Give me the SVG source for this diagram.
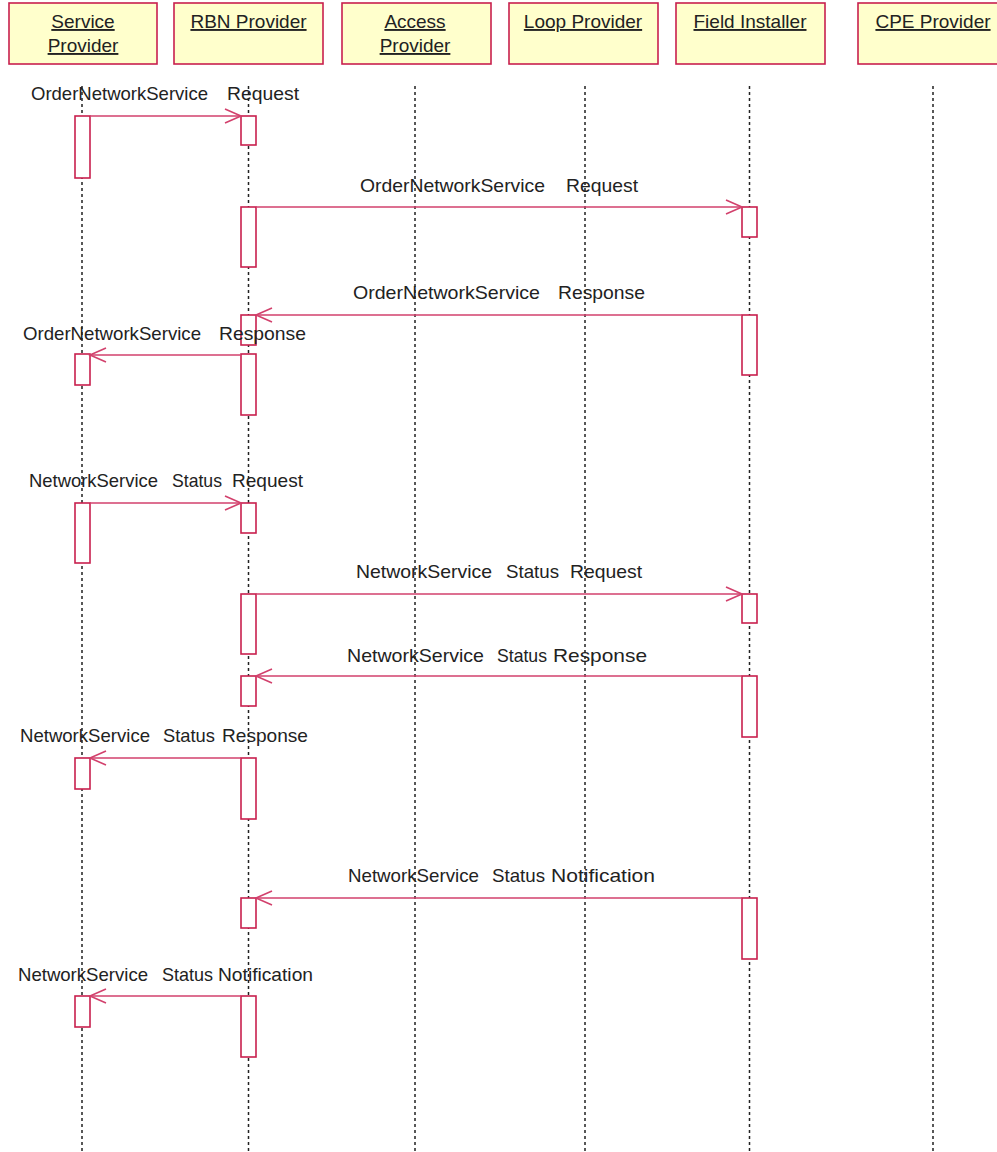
<svg xmlns="http://www.w3.org/2000/svg" width="997" height="1152" viewBox="0 0 997 1152">
<defs>
<style>
.hdr{fill:#FFFFCC;stroke:#C8204E;stroke-width:1.6}
.ht{font-family:"Liberation Sans",Arial,sans-serif;font-size:19px;fill:#222;text-anchor:middle;text-decoration:underline}
.life{stroke:#222;stroke-width:1.5;stroke-dasharray:3,3;fill:none}
.act{fill:#fff;stroke:#C8204E;stroke-width:1.6}
.msg{stroke:#D2406C;stroke-width:1.6;fill:none;marker-end:url(#arr)}
.lb{font-family:"Liberation Sans",Arial,sans-serif;font-size:18.5px;fill:#222}
</style>
<marker id="arr" markerUnits="userSpaceOnUse" markerWidth="20" markerHeight="20" viewBox="-18 -10 20 20" refX="0" refY="0" orient="auto">
<path d="M-16,-7 L0,0 L-16,7" fill="none" stroke="#D2406C" stroke-width="1.6"/>
</marker>
</defs>
<rect width="997" height="1152" fill="#fff"/>

<g id="lifelines">
<line class="life" x1="82" y1="86" x2="82" y2="1152"/>
<line class="life" x1="248.5" y1="86" x2="248.5" y2="1152"/>
<line class="life" x1="415" y1="86" x2="415" y2="1152"/>
<line class="life" x1="585" y1="86" x2="585" y2="1152"/>
<line class="life" x1="749.5" y1="86" x2="749.5" y2="1152"/>
<line class="life" x1="933" y1="86" x2="933" y2="1152"/>
</g>

<g id="service-provider">
<rect class="hdr" x="9" y="3" width="148" height="61"/>
<text class="ht" x="83" y="28">Service</text>
<text class="ht" x="83" y="52">Provider</text>
<rect class="act" x="75" y="116" width="15" height="62"/>
<rect class="act" x="75" y="354" width="15" height="31"/>
<rect class="act" x="75" y="503" width="15" height="60"/>
<rect class="act" x="75" y="758" width="15" height="31"/>
<rect class="act" x="75" y="996" width="15" height="31"/>
</g>

<g id="rbn-provider">
<rect class="hdr" x="174" y="3" width="149" height="61"/>
<text class="ht" x="248.5" y="28">RBN Provider</text>
<rect class="act" x="241" y="116" width="15" height="29"/>
<rect class="act" x="241" y="207" width="15" height="60"/>
<rect class="act" x="241" y="315" width="15" height="30"/>
<rect class="act" x="241" y="354" width="15" height="61"/>
<rect class="act" x="241" y="503" width="15" height="30"/>
<rect class="act" x="241" y="594" width="15" height="60"/>
<rect class="act" x="241" y="676" width="15" height="30"/>
<rect class="act" x="241" y="758" width="15" height="61"/>
<rect class="act" x="241" y="898" width="15" height="30"/>
<rect class="act" x="241" y="996" width="15" height="61"/>
</g>

<g id="access-provider">
<rect class="hdr" x="342" y="3" width="149" height="61"/>
<text class="ht" x="415" y="28">Access</text>
<text class="ht" x="415" y="52">Provider</text>
</g>

<g id="loop-provider">
<rect class="hdr" x="509" y="3" width="149" height="61"/>
<text class="ht" x="583" y="28">Loop Provider</text>
</g>

<g id="field-installer">
<rect class="hdr" x="676" y="3" width="149" height="61"/>
<text class="ht" x="750" y="28">Field Installer</text>
<rect class="act" x="742" y="207" width="15" height="30"/>
<rect class="act" x="742" y="315" width="15" height="60"/>
<rect class="act" x="742" y="594" width="15" height="29"/>
<rect class="act" x="742" y="676" width="15" height="61"/>
<rect class="act" x="742" y="898" width="15" height="61"/>
</g>

<g id="cpe-provider">
<rect class="hdr" x="858" y="3" width="149" height="61"/>
<text class="ht" x="933" y="28">CPE Provider</text>
</g>

<g id="connectors">
<line class="msg" x1="90" y1="116" x2="241" y2="116"/>
<line class="msg" x1="256" y1="207" x2="742" y2="207"/>
<line class="msg" x1="742" y1="315" x2="256" y2="315"/>
<line class="msg" x1="241" y1="355" x2="90" y2="355"/>
<line class="msg" x1="90" y1="503" x2="241" y2="503"/>
<line class="msg" x1="256" y1="594" x2="742" y2="594"/>
<line class="msg" x1="742" y1="676" x2="256" y2="676"/>
<line class="msg" x1="241" y1="758" x2="90" y2="758"/>
<line class="msg" x1="742" y1="898" x2="256" y2="898"/>
<line class="msg" x1="241" y1="996" x2="90" y2="996"/>
</g>

<g id="labels" class="lb">
<text y="100"><tspan x="31" textLength="177" lengthAdjust="spacingAndGlyphs">OrderNetworkService</tspan><tspan x="227" textLength="72" lengthAdjust="spacingAndGlyphs">Request</tspan></text>
<text y="192"><tspan x="360" textLength="185" lengthAdjust="spacingAndGlyphs">OrderNetworkService</tspan><tspan x="566" textLength="72" lengthAdjust="spacingAndGlyphs">Request</tspan></text>
<text y="299"><tspan x="353" textLength="187" lengthAdjust="spacingAndGlyphs">OrderNetworkService</tspan><tspan x="558" textLength="87" lengthAdjust="spacingAndGlyphs">Response</tspan></text>
<text y="340"><tspan x="23" textLength="178" lengthAdjust="spacingAndGlyphs">OrderNetworkService</tspan><tspan x="219" textLength="87" lengthAdjust="spacingAndGlyphs">Response</tspan></text>
<text y="487"><tspan x="29" textLength="129" lengthAdjust="spacingAndGlyphs">NetworkService</tspan><tspan x="172" textLength="50" lengthAdjust="spacingAndGlyphs">Status</tspan><tspan x="232" textLength="71" lengthAdjust="spacingAndGlyphs">Request</tspan></text>
<text y="578"><tspan x="356" textLength="136" lengthAdjust="spacingAndGlyphs">NetworkService</tspan><tspan x="506" textLength="53" lengthAdjust="spacingAndGlyphs">Status</tspan><tspan x="570" textLength="72" lengthAdjust="spacingAndGlyphs">Request</tspan></text>
<text y="662"><tspan x="347" textLength="137" lengthAdjust="spacingAndGlyphs">NetworkService</tspan><tspan x="497" textLength="50" lengthAdjust="spacingAndGlyphs">Status</tspan><tspan x="553" textLength="94" lengthAdjust="spacingAndGlyphs">Response</tspan></text>
<text y="742"><tspan x="20" textLength="130" lengthAdjust="spacingAndGlyphs">NetworkService</tspan><tspan x="163" textLength="52" lengthAdjust="spacingAndGlyphs">Status</tspan><tspan x="222" textLength="86" lengthAdjust="spacingAndGlyphs">Response</tspan></text>
<text y="882"><tspan x="348" textLength="131" lengthAdjust="spacingAndGlyphs">NetworkService</tspan><tspan x="492" textLength="53" lengthAdjust="spacingAndGlyphs">Status</tspan><tspan x="551" textLength="104" lengthAdjust="spacingAndGlyphs">Notification</tspan></text>
<text y="981"><tspan x="18" textLength="130" lengthAdjust="spacingAndGlyphs">NetworkService</tspan><tspan x="162" textLength="51" lengthAdjust="spacingAndGlyphs">Status</tspan><tspan x="218" textLength="95" lengthAdjust="spacingAndGlyphs">Notification</tspan></text>
</g>
</svg>
